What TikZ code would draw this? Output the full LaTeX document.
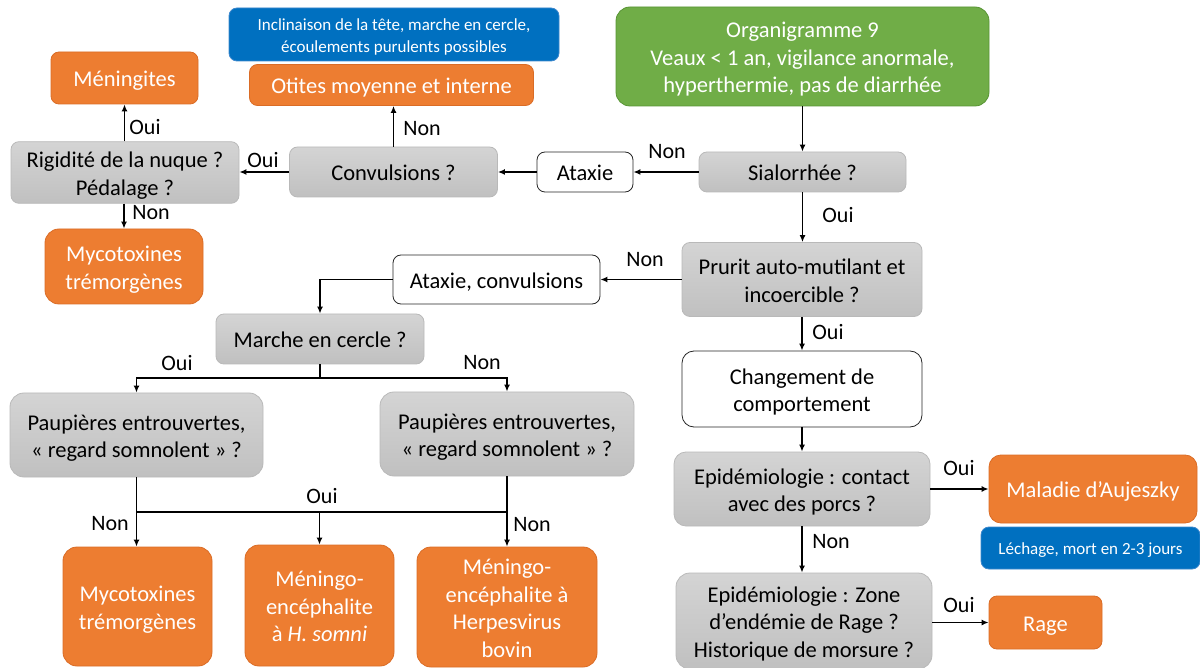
\documentclass[tikz,border=0pt]{standalone}
\usepackage{fontspec}
\setmainfont{Carlito}
\usetikzlibrary{arrows.meta}
\definecolor{orng}{RGB}{237,125,49}
\definecolor{orngb}{RGB}{218,108,38}
\definecolor{grn}{RGB}{112,173,71}
\definecolor{grnb}{RGB}{88,148,52}
\definecolor{blu}{RGB}{0,112,192}
\definecolor{blub}{RGB}{60,135,205}
\definecolor{gryt}{RGB}{212,212,212}
\definecolor{gryb}{RGB}{192,192,192}
\definecolor{gryd}{RGB}{185,185,185}
\newcommand\T[1]{\begin{tabular}{@{}c@{}}\rule{0pt}{25.9pt}#1\end{tabular}}
\newcommand\Ts[1]{\begin{tabular}{@{}c@{}}\rule{0pt}{20.2pt}#1\end{tabular}}
\begin{document}
\begin{tikzpicture}[x=1pt,y=1pt,
  base/.style={rounded corners=8pt, inner sep=0pt, line width=0.8pt,
    font=\fontsize{22.5}{27.5}\selectfont},
  graybox/.style={base, draw=gryd, top color=gryt, bottom color=gryb},
  whitebox/.style={base, draw=black!85, fill=white},
  orangebox/.style={base, draw=orngb, fill=orng, text=white},
  greenbox/.style={base, draw=grnb, fill=grn, text=white, rounded corners=14pt},
  bluebox/.style={rounded corners=8pt, inner sep=0pt, line width=0.8pt,
    draw=blub, fill=blu, text=white, font=\fontsize{17}{22}\selectfont},
  lbl/.style={inner sep=0pt, font=\fontsize{22}{26}\selectfont},
  arr/.style={line width=1.4pt, -{Latex[length=7pt,width=6pt]}},
  ln/.style={line width=1.4pt}]
\useasboundingbox (0,0) rectangle (1200,-668);

% nodes
\node[bluebox, minimum width=330, minimum height=53] (note1) at (394,-34.5)
  {\Ts{Inclinaison de la tête, marche en cercle,\\écoulements purulents possibles}};
\node[orangebox, minimum width=284, minimum height=41] (oti) at (391.5,-85) {\T{Otites moyenne et interne}};
\node[orangebox, minimum width=147, minimum height=52] (men) at (124.5,-78) {\T{Méningites}};
\node[graybox, minimum width=228, minimum height=51] (rig) at (125,-172.5) {\T{Rigidité de la nuque ?\\Pédalage ?}};
\node[graybox, minimum width=208, minimum height=50] (conv) at (393.5,-172) {\T{Convulsions ?}};
\node[whitebox, minimum width=96, minimum height=40] (atx) at (585,-172) {\T{Ataxie}};
\node[greenbox, minimum width=373, minimum height=99] (org) at (802.5,-56.5)
  {\T{Organigramme 9\\Veaux < 1 an, vigilance anormale,\\hyperthermie, pas de diarrhée}};
\node[graybox, minimum width=207, minimum height=40] (sia) at (802.5,-172) {\T{Sialorrhée ?}};
\node[orangebox, rounded corners=14pt, minimum width=158, minimum height=75] (myc1) at (124,-266.5) {\T{Mycotoxines\\trémorgènes}};
\node[whitebox, minimum width=207, minimum height=49] (atc) at (496.5,-279.5) {\T{Ataxie, convulsions}};
\node[graybox, minimum width=240, minimum height=74] (pru) at (802,-279.5) {\T{Prurit auto-mutilant et\\incoercible ?}};
\node[graybox, minimum width=208, minimum height=50] (mar) at (320,-339) {\T{Marche en cercle ?}};
\node[graybox, rounded corners=14pt, minimum width=253, minimum height=84] (pl) at (136.5,-435) {\T{Paupières entrouvertes,\\« regard somnolent » ?}};
\node[graybox, rounded corners=14pt, minimum width=254, minimum height=84] (pr) at (507,-434) {\T{Paupières entrouvertes,\\« regard somnolent » ?}};
\node[whitebox, rounded corners=12pt, minimum width=240, minimum height=76] (chg) at (802,-389) {\T{Changement de\\comportement}};
\node[graybox, rounded corners=12pt, minimum width=256, minimum height=74] (epi) at (802,-489) {\T{Epidémiologie : contact\\avec des porcs ?}};
\node[orangebox, rounded corners=12pt, minimum width=208, minimum height=68] (auj) at (1093,-489) {\T{Maladie d’Aujeszky}};
\node[bluebox, minimum width=219, minimum height=42] (note2) at (1090.5,-548) {\Ts{Léchage, mort en 2-3 jours}};
\node[graybox, rounded corners=14pt, minimum width=256, minimum height=96] (zone) at (804,-621)
  {\T{Epidémiologie : Zone\\d’endémie de Rage ?\\Historique de morsure ?}};
\node[orangebox, minimum width=113, minimum height=53] (rage) at (1045.5,-622.5) {\T{Rage}};
\node[orangebox, rounded corners=14pt, minimum width=149, minimum height=119] (myc2) at (137.5,-606.5) {\T{Mycotoxines\\trémorgènes}};
\node[orangebox, rounded corners=14pt, minimum width=149, minimum height=121] (som) at (319.5,-605.5) {\T{Méningo-\\encéphalite\\à \textit{H. somni}}};
\node[orangebox, rounded corners=14pt, minimum width=180, minimum height=120] (her) at (507,-607) {\T{Méningo-\\encéphalite à\\Herpesvirus\\bovin}};

% connectors
\draw[arr] (org.south) -- (org.south |- sia.north);
\draw[arr] (sia.south) -- (sia.south |- pru.north);
\draw[arr] (sia.west) -- (sia.west -| atx.east);
\draw[arr] (atx.west) -- (atx.west -| conv.east);
\draw[arr] (conv.west) -- (conv.west -| rig.east);
\draw[arr] (conv.north) -- (conv.north |- oti.south);
\draw[arr] (rig.north -| men.south) -- (men.south);
\draw[arr] (rig.south -| myc1.north) -- (myc1.north);
\draw[arr] (pru.west) -- (pru.west -| atc.east);
\draw[arr] (atc.west) -| (mar.north);
\draw[arr] (pru.south) -- (pru.south |- chg.north);
\draw[arr] (chg.south) -- (chg.south |- epi.north);
\draw[arr] (epi.east) -- (epi.east -| auj.west);
\draw[arr] (epi.south) -- (epi.south |- zone.north);
\draw[arr] (zone.east |- rage.west) -- (rage.west);

\coordinate (m1) at (320,-378);
\draw[ln] (mar.south) -- (m1);
\draw[arr] (m1) -| (pl.north);
\draw[arr] (m1) -| (pr.north);

\coordinate (h1) at (136.5,-512);
\coordinate (h2) at (507,-512);
\coordinate (h3) at (319.5,-512);
\draw[arr] (pl.south) -- (pl.south |- myc2.north);
\draw[arr] (pr.south) -- (pr.south |- her.north);
\draw[ln] (h1) -- (h2);
\draw[arr] (h3) -- (som.north);

% labels
\node[lbl] (l1) at (667,-152) {Non};
\node[lbl] (l2) at (838,-215) {Oui};
\node[lbl] (l3) at (263,-160) {Oui};
\node[lbl] (l4) at (422,-129) {Non};
\node[lbl] (l5) at (145,-127) {Oui};
\node[lbl] (l6) at (151,-213) {Non};
\node[lbl] (l7) at (645,-260) {Non};
\node[lbl] (l8) at (828,-332) {Oui};
\node[lbl] (l9) at (959,-468) {Oui};
\node[lbl] (l10) at (831,-542) {Non};
\node[lbl] (l11) at (959,-605) {Oui};
\node[lbl] (l12) at (177,-363) {Oui};
\node[lbl] (l13) at (482,-363) {Non};
\node[lbl] (l14) at (322,-496) {Oui};
\node[lbl] (l15) at (110,-524) {Non};
\node[lbl] (l16) at (532,-525) {Non};
\end{tikzpicture}
\end{document}
